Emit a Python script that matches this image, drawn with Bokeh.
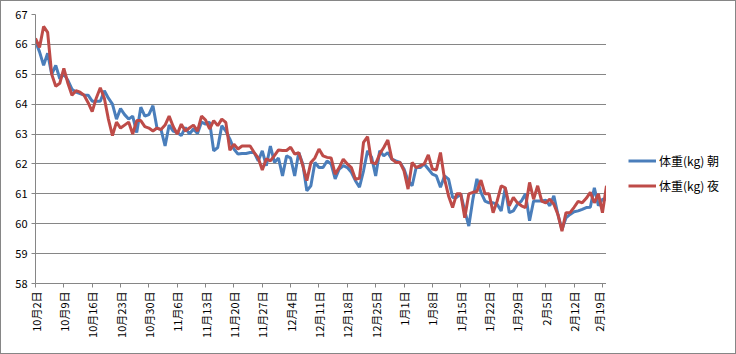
import math
from bokeh.plotting import figure
from bokeh.layouts import row
from bokeh.models import ColumnDataSource, FixedTicker, Legend, LegendItem
from bokeh.embed import file_html
from bokeh.resources import INLINE

# ---- data (day index 0 = 10月2日) ----
morning = [66.1, 65.75, 65.3, 65.7, 65.0, 65.3, 64.85, 65.0, 64.8, 64.5,
           64.4, 64.35, 64.3, 64.3, 64.1, 64.1, 64.1, 64.45, 64.2, 64.0,
           63.5, 63.85, 63.65, 63.5, 63.6, 63.05, 63.9, 63.6, 63.65, 63.95,
           63.2, 63.15, 62.6, 63.3, 63.1, 63.05, 62.95, 63.22, 63.0, 63.17,
           63.02, 63.4, 63.33, 63.4, 62.44, 62.55, 63.28, 63.1, 62.83, 62.5,
           62.33, 62.35, 62.35, 62.38, 62.38, 62.1, 62.44, 61.94, 62.6, 62.05,
           62.2, 61.6, 62.27, 62.2, 61.6, 62.38, 62.0, 61.1, 61.27, 62.05,
           61.88, 61.88, 62.1, 62.0, 61.5, 61.83, 61.94, 61.88, 61.72, 61.44,
           61.22, 61.77, 62.44, 62.22, 61.6, 62.44, 62.27, 62.38, 62.16, 62.1,
           62.05, 61.83, 61.44, 61.27, 61.88, 61.88, 62.0, 61.83, 61.66, 61.6,
           61.22, 61.6, 61.49, 60.88, 60.88, 61.0, 60.43, 59.92, 60.82, 61.5,
           61.05, 60.76, 60.7, 60.7, 60.65, 60.43, 61.2, 60.37, 60.43, 60.65,
           60.76, 61.0, 60.1, 60.76, 60.76, 60.76, 60.79, 60.6, 60.93, 60.31,
           59.8, 60.2, 60.31, 60.4, 60.43, 60.48, 60.54, 60.55, 61.2, 60.6,
           60.82, 60.82]
night = [66.2, 65.9, 66.6, 66.4, 65.0, 64.6, 64.7, 65.2, 64.7, 64.3,
         64.45, 64.4, 64.3, 64.05, 63.75, 64.2, 64.55, 64.2, 63.5, 62.95,
         63.4, 63.2, 63.3, 63.4, 63.0, 63.45, 63.45, 63.25, 63.2, 63.1,
         63.2, 63.15, 63.3, 63.6, 63.25, 63.0, 63.33, 63.1, 63.2, 63.3,
         63.1, 63.6, 63.47, 63.17, 63.45, 63.28, 63.5, 63.39, 62.46, 62.66,
         62.5, 62.6, 62.6, 62.6, 62.38, 62.2, 61.8, 62.17, 62.1, 62.28,
         62.47, 62.45, 62.45, 62.56, 62.33, 62.38, 61.95, 61.44, 62.05, 62.2,
         62.5, 62.27, 62.22, 62.2, 61.66, 61.88, 62.16, 62.0, 61.88, 61.49,
         61.52, 62.72, 62.91, 62.05, 62.0, 62.33, 62.55, 62.8, 62.16, 62.05,
         62.05, 61.77, 61.16, 62.05, 61.88, 61.94, 62.0, 62.3, 61.83, 61.8,
         62.38, 61.5, 60.93, 60.54, 61.0, 61.0, 60.2, 61.0, 61.05, 61.08,
         61.46, 61.0, 61.0, 60.37, 60.76, 61.27, 61.2, 60.6, 60.88, 60.7,
         60.6, 60.54, 61.38, 60.82, 61.27, 60.76, 60.7, 60.82, 60.65, 60.31,
         59.75, 60.37, 60.37, 60.55, 60.75, 60.7, 60.85, 61.05, 60.7, 61.0,
         60.37, 61.27]
tick_labels = ["10月2日", "10月9日", "10月16日", "10月23日", "10月30日",
               "11月6日", "11月13日", "11月20日", "11月27日", "12月4日",
               "12月11日", "12月18日", "12月25日", "1月1日", "1月8日",
               "1月15日", "1月22日", "1月29日", "2月5日", "2月12日", "2月19日"]
series_names = ["体重(kg) 朝", "体重(kg) 夜"]
series_colors = ["#4A7EBB", "#BE4B48"]
y_ticks = [58, 59, 60, 61, 62, 63, 64, 65, 66, 67]

days = list(range(len(morning)))
tick_days = [7 * i for i in range(len(tick_labels))]

src = ColumnDataSource(dict(day=days, morning=morning, night=night))

FONT = "Noto Sans CJK JP"
GRID = "#868686"

p = figure(width=605, height=352, output_backend="svg", toolbar_location=None,
           x_range=(0, len(days) - 1), y_range=(58, 67),
           min_border_left=34, min_border_right=0, min_border_top=13,
           min_border_bottom=70)
p.outline_line_color = None
p.background_fill_color = "white"
p.border_fill_color = "white"

p.line("day", "morning", source=src, line_color=series_colors[0], line_width=3)
p.line("day", "night", source=src, line_color=series_colors[1], line_width=3)

p.xgrid.visible = False
p.ygrid.grid_line_color = GRID
p.ygrid.grid_line_width = 1
p.yaxis.ticker = FixedTicker(ticks=y_ticks)
p.xaxis.ticker = FixedTicker(ticks=tick_days)
p.xaxis.major_label_overrides = {d: lab for d, lab in zip(tick_days, tick_labels)}
p.xaxis.major_label_orientation = math.pi / 2

for ax in (p.xaxis[0], p.yaxis[0]):
    ax.axis_line_color = GRID
    ax.major_tick_line_color = GRID
    ax.major_tick_in = 0
    ax.major_tick_out = 4
    ax.minor_tick_line_color = None
    ax.major_label_text_font = FONT
    ax.major_label_text_font_size = "11px"
    ax.major_label_text_color = "black"
    ax.major_label_standoff = 4

# legend panel on the right (its lines lie outside the visible range;
# they only provide the legend swatches)
lg = figure(width=129, height=352, output_backend="svg", toolbar_location=None,
            x_range=(0, 1), y_range=(0, 1),
            min_border_left=0, min_border_right=0, min_border_top=0,
            min_border_bottom=0)
lg.axis.visible = False
lg.grid.visible = False
lg.outline_line_color = None
lg.background_fill_color = "white"
lg.border_fill_color = "white"
items = []
for name, col in zip(series_names, series_colors):
    r = lg.line(x=[-5, -4], y=[-5, -5], line_color=col, line_width=3)
    items.append(LegendItem(label=name, renderers=[r]))

legend = Legend(items=items, location=(22, 89), orientation="vertical",
                padding=0, margin=0, spacing=8,
                glyph_width=28, glyph_height=17, label_height=17,
                label_standoff=3, label_text_font=FONT,
                label_text_font_size="12px", label_text_color="black",
                border_line_color=None, background_fill_alpha=0)
lg.add_layout(legend, "center")

layout = row(p, lg, spacing=0)
layout.styles = {"border": "1px solid #868686", "width": "736px", "height": "354px",
                 "box-sizing": "border-box"}

open("out.html", "w").write(file_html(layout, INLINE))
